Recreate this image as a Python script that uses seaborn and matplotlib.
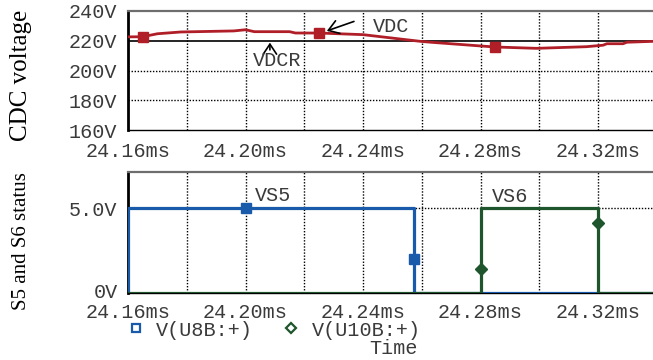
import matplotlib
matplotlib.use("Agg")
import matplotlib.pyplot as plt
from matplotlib.lines import Line2D
from matplotlib.transforms import ScaledTranslation
import numpy as np
import pandas as pd
import seaborn as sns

# ---- data -------------------------------------------------------------
# DC-link voltage trace (time in ms, volts)
vdc_t = [24.160, 24.165, 24.170, 24.178, 24.196, 24.200, 24.203, 24.215,
         24.217, 24.225, 24.240, 24.2595, 24.263, 24.280, 24.285, 24.299,
         24.316, 24.3217, 24.323, 24.3285, 24.3298, 24.3387]
vdc_v = [222.6, 222.7, 224.7, 225.9, 226.6, 227.4, 226.1, 226.1,
         225.2, 225.2, 224.1, 219.6, 219.0, 216.5, 215.8, 214.9,
         216.0, 217.0, 218.0, 218.0, 219.0, 219.6]
vdc_marker_t = [24.165, 24.225, 24.285]
vdc_marker_v = [222.7, 225.2, 215.8]
vdcr_level = 220.0

# Switch gate signals
s5_t = [24.160, 24.160, 24.2575, 24.2575, 24.3387]
s5_v = [0.0, 5.0, 5.0, 0.0, 0.0]
s5_marker_t = [24.200, 24.2575]
s5_marker_v = [5.0, 1.98]

s6_t = [24.160, 24.280, 24.280, 24.320, 24.320, 24.3387]
s6_v = [0.0, 0.0, 5.0, 5.0, 0.0, 0.0]
s6_marker_t = [24.280, 24.320]
s6_marker_v = [1.43, 4.10]

x_ticks = [24.16, 24.20, 24.24, 24.28, 24.32]
x_tick_labels = ["24.16ms", "24.20ms", "24.24ms", "24.28ms", "24.32ms"]
x_grid = [24.18, 24.20, 24.22, 24.24, 24.26, 24.28, 24.30, 24.32]
vdc_ticks = [160, 180, 200, 220, 240]
vdc_tick_labels = ["160V", "180V", "200V", "220V", "240V"]
sw_ticks = [0, 5]
sw_tick_labels = ["0V", "5.0V"]
legend_labels = ["V(U8B:+)", "V(U10B:+)"]

# ---- style ------------------------------------------------------------
sns.set_style("white")
plt.rcParams["font.family"] = ["Liberation Mono", "DejaVu Sans Mono"]
MONO = 14.5
TXT = "#3a3a3a"
RED = "#b01e28"
BLUE = "#1a5aaa"
GREEN = "#1e552d"

XMIN, XMAX = 24.16, 24.3387

fig = plt.figure(figsize=(6.53, 3.60), dpi=100)
ax1 = fig.add_axes([128 / 653, 1 - 130 / 360, 1 - 128 / 653, 119 / 360])
ax2 = fig.add_axes([128 / 653, 1 - 293 / 360, 1 - 128 / 653, 121 / 360])

ARROW = dict(arrowstyle="->,head_length=0.45,head_width=0.3",
             color="black", lw=1.2, mutation_scale=16)


def style_axes(ax):
    ax.set_xlim(XMIN, XMAX)
    for gx in x_grid:
        ax.axvline(gx, color="black", lw=1.0, ls=(0, (1, 1.2)), zorder=0.5)
    ax.spines["right"].set_visible(False)
    ax.spines["left"].set_color("black")
    ax.spines["left"].set_linewidth(2.0)
    ax.spines["top"].set_color("#6e6e6e")
    ax.spines["top"].set_linewidth(1.6)
    ax.spines["bottom"].set_color("black")
    ax.spines["bottom"].set_linewidth(1.0)
    ax.set_xticks(x_ticks)
    ax.set_xticklabels(x_tick_labels)
    ax.tick_params(axis="x", direction="inout", length=7, width=1.6,
                   color="black", labelsize=MONO, labelcolor=TXT, pad=4)
    ax.tick_params(axis="y", direction="out", length=7, width=1.0,
                   color="black", labelsize=MONO, labelcolor=TXT, pad=0.5)
    ax.set_xlabel("")
    ax.set_ylabel("")


# ---- top panel: DC voltage -------------------------------------------
style_axes(ax1)
ax1.set_ylim(160, 240)
ax1.set_yticks(vdc_ticks)
ax1.set_yticklabels(vdc_tick_labels)
for gy in [180, 200]:
    ax1.axhline(gy, color="black", lw=1.0, ls=(0, (1, 1.2)), zorder=0.5)
ax1.axhline(vdcr_level, color="black", lw=1.2, zorder=1)
sns.lineplot(x=vdc_t, y=vdc_v, ax=ax1, color=RED, lw=2.0,
             sort=False, estimator=None, zorder=3)
ax1.plot(vdc_marker_t, vdc_marker_v, ls="none", marker="s", ms=7,
         mfc=RED, mec=RED, zorder=4)
ax1.annotate("", xy=(24.2083, 220.6), xytext=(24.2083, 212.0),
             arrowprops=ARROW)
ax1.text(24.2106, 206.4, "VDCR", fontsize=MONO, color=TXT,
         ha="center", va="center")
ax1.annotate("", xy=(24.2268, 226.0), xytext=(24.2378, 233.6),
             arrowprops=ARROW)
ax1.text(24.2495, 229.9, "VDC", fontsize=MONO, color=TXT,
         ha="center", va="center")
ax1.tick_params(axis="x", pad=5)

# ---- bottom panel: switch status -------------------------------------
style_axes(ax2)
ax2.set_ylim(0, 7.12)
ax2.set_yticks(sw_ticks)
ax2.set_yticklabels(sw_tick_labels)
ax2.axhline(5.0, color="black", lw=1.0, ls=(0, (1, 1.2)), zorder=0.5)
sns.lineplot(x=s5_t, y=s5_v, ax=ax2, color=BLUE, lw=2.3,
             sort=False, estimator=None, zorder=3)
sns.lineplot(x=s6_t, y=s6_v, ax=ax2, color=GREEN, lw=2.3,
             sort=False, estimator=None, zorder=3.5)
ax2.plot(s5_marker_t, s5_marker_v, ls="none", marker="s", ms=6.5,
         mfc=BLUE, mec=BLUE, zorder=4)
ax2.plot(s6_marker_t, s6_marker_v, ls="none", marker="D", ms=6,
         mfc=GREEN, mec=GREEN, zorder=4)
ax2.text(24.2094, 5.76, "VS5", fontsize=MONO, color=TXT,
         ha="center", va="center")
ax2.text(24.2900, 5.65, "VS6", fontsize=MONO, color=TXT,
         ha="center", va="center")
ax2.tick_params(axis="x", pad=3.5)
# nudge the bottom "0V" label up so it clears the time labels below
zero_lbl = ax2.get_yticklabels()[0]
zero_lbl.set_transform(zero_lbl.get_transform()
                       + ScaledTranslation(0, 3 / 100, fig.dpi_scale_trans))

# legend row and x label
handles = [
    Line2D([], [], ls="none", marker="s", ms=6, mfc="none", mec=BLUE, mew=1.6),
    Line2D([], [], ls="none", marker="D", ms=5, mfc="none", mec=GREEN, mew=1.6),
]
fig.legend(handles, legend_labels, loc="center left",
           bbox_to_anchor=(126 / 653, 1 - 330 / 360), ncol=2, frameon=False,
           fontsize=MONO, labelcolor=TXT, handlelength=1.0,
           handletextpad=0.5, columnspacing=1.4, borderpad=0,
           borderaxespad=0)
fig.text(394 / 653, 1 - 349 / 360, "Time", fontsize=MONO, color=TXT,
         ha="center", va="center")

# panel titles (serif, rotated)
fig.text(21 / 653, 1 - 75 / 360, "CDC voltage", rotation=90,
         family=["Liberation Serif", "DejaVu Serif"], fontsize=18,
         color="black", ha="center", va="center")
fig.text(22 / 653, 1 - 241 / 360, "S5 and S6 status", rotation=90,
         family=["Liberation Serif", "DejaVu Serif"], fontsize=15,
         color="black", ha="center", va="center")

fig.savefig("out.png", dpi=100)
